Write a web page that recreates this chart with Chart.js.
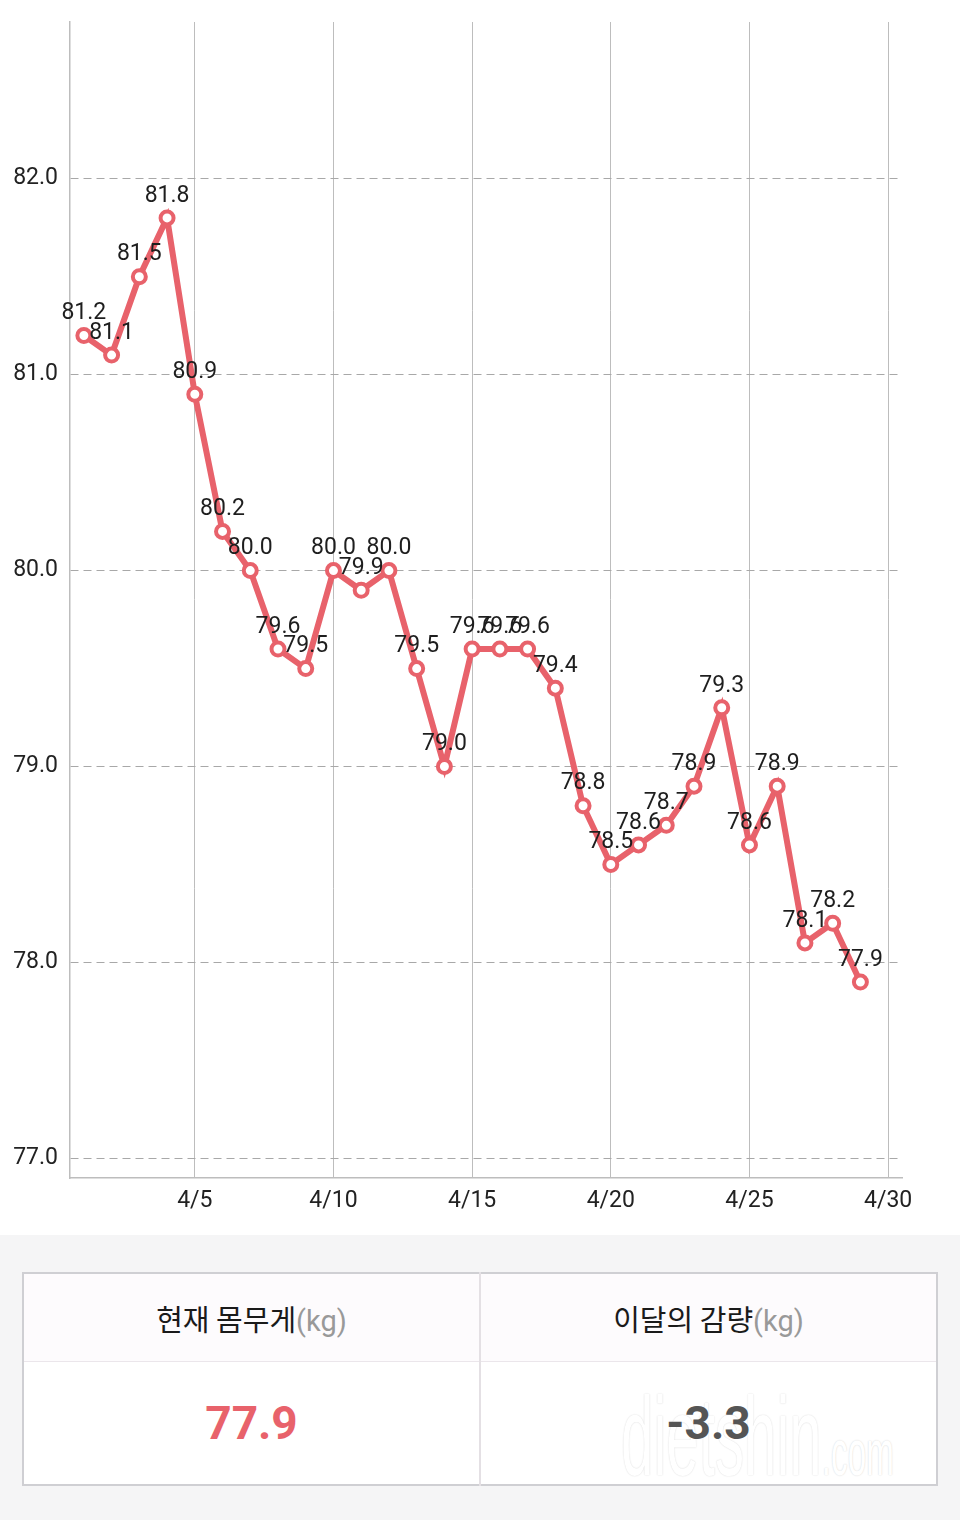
<!DOCTYPE html>
<html>
<head>
<meta charset="utf-8">
<script src="https://cdn.jsdelivr.net/npm/chart.js@4.4.1/dist/chart.umd.min.js"></script>
<style>
  html, body { margin: 0; padding: 0; background: #fff; }
  body { width: 960px; height: 1520px; overflow: hidden; font-family: Roboto, "Noto Sans CJK KR", sans-serif; }
  #chartBox { position: relative; width: 960px; height: 1235px; }
  #summary { position: relative; width: 960px; height: 285px; background: #f5f5f6; }
  table { position: absolute; left: 22px; top: 37px; width: 916px; height: 214px; border-collapse: collapse; border: 2px solid #cfcfd3; background: #fff; }
  th { height: 85px; background: #fdfbfd; font-weight: normal; font-size: 29px; color: #1a1a1a; border-bottom: 1px solid #ebe6eb;
       font-family: "Noto Sans CJK KR", Roboto, sans-serif; }
  th span { color: #999; font-family: Roboto, sans-serif; }
  td { text-align: center; font-size: 46px; font-weight: bold; font-family: Roboto, sans-serif; }
  th + th, td + td { border-left: 2px solid #e4e0e4; }
  .cur { color: #e8626b; }
  .diff { color: #555; position: relative; overflow: hidden; }
  .wm { position: absolute; left: 140px; top: 10px; white-space: nowrap; font-weight: normal; color: #fff;
        text-shadow: 0 0 2px rgba(0,0,0,0.18); transform: scaleX(0.52); transform-origin: left top;
        font-family: "Liberation Sans", sans-serif; pointer-events: none; }
  .wm b { font-size: 112px; font-weight: normal; }
  .wm i { font-size: 64px; font-style: normal; }
  .val { position: relative; z-index: 1; }
</style>
</head>
<body>
<div id="chartBox"><canvas id="weightChart"></canvas></div>
<div id="summary">
  <table>
    <tr><th>현재 몸무게<span>(kg)</span></th><th>이달의 감량<span>(kg)</span></th></tr>
    <tr><td class="cur">77.9</td><td class="diff"><div class="wm"><b>dietshin</b><i>.com</i></div><span class="val">-3.3</span></td></tr>
  </table>
</div>
<script>
// April daily weights (day of month -> kg)
var days = [1, 2, 3, 4, 5, 6, 7, 8, 9, 10, 11, 12, 13, 14, 15, 16, 17, 18, 19, 20, 21, 22, 23, 24, 25, 26, 27, 28, 29];
var weights = [81.2, 81.1, 81.5, 81.8, 80.9, 80.2, 80.0, 79.6, 79.5, 80.0, 79.9, 80.0, 79.5, 79.0, 79.6, 79.6, 79.6, 79.4,
               78.8, 78.5, 78.6, 78.7, 78.9, 79.3, 78.6, 78.9, 78.1, 78.2, 77.9];
var xTicks = [5, 10, 15, 20, 25, 30];
var yTicks = [77, 78, 79, 80, 81, 82];
var month = 4;

var points = days.map(function (d, i) { return { x: d, y: weights[i] }; });
var lineColor = '#e8626b';

var valueLabels = {
    id: 'valueLabels',
    afterDatasetsDraw: function (chart) {
        var ctx = chart.ctx;
        var meta = chart.getDatasetMeta(0);
        ctx.save();
        ctx.font = '23px Roboto';
        ctx.fillStyle = '#1e1e1e';
        ctx.textAlign = 'center';
        ctx.textBaseline = 'middle';
        meta.data.forEach(function (pt, i) {
            ctx.fillText(weights[i].toFixed(1), pt.x, pt.y - 22);
        });
        ctx.restore();
    }
};

new Chart(document.getElementById('weightChart'), {
    type: 'line',
    data: {
        datasets: [{
            data: points,
            borderColor: lineColor,
            borderWidth: 6,
            pointRadius: 6.5,
            pointBorderWidth: 4,
            pointBackgroundColor: '#fff',
            pointBorderColor: lineColor,
            tension: 0,
            fill: false
        }]
    },
    options: {
        responsive: true,
        maintainAspectRatio: false,
        animation: false,
        layout: { padding: { top: 22, right: 58, left: 0, bottom: 0 } },
        plugins: { legend: { display: false }, tooltip: { enabled: false } },
        scales: {
            x: {
                type: 'linear',
                min: 0.5,
                max: 30.5,
                afterBuildTicks: function (axis) {
                    axis.ticks = xTicks.map(function (v) { return { value: v }; });
                },
                afterFit: function (axis) { axis.height = 57; },
                grid: { color: '#bdbdbd', lineWidth: 1, drawTicks: false },
                border: { color: '#bdbdbd', width: 1.5 },
                ticks: {
                    padding: 9,
                    color: '#222',
                    font: { family: 'Roboto', size: 23 },
                    maxRotation: 0,
                    callback: function (v) { return month + '/' + v; }
                }
            },
            y: {
                min: 76.9,
                max: 82.8,
                afterBuildTicks: function (axis) {
                    axis.ticks = yTicks.map(function (v) { return { value: v }; });
                },
                afterFit: function (axis) {
                    axis.width = 70;
                    axis.paddingTop = 0;
                    axis.paddingBottom = 0;
                },
                grid: { color: '#a8a8a8', lineWidth: 1, drawTicks: false },
                border: { color: '#bdbdbd', width: 1.5, dash: [8, 5] },
                ticks: {
                    padding: 12,
                    color: '#222',
                    font: { family: 'Roboto', size: 23 },
                    callback: function (v) { return v.toFixed(1); }
                }
            }
        }
    },
    plugins: [valueLabels]
});
</script>
</body>
</html>
